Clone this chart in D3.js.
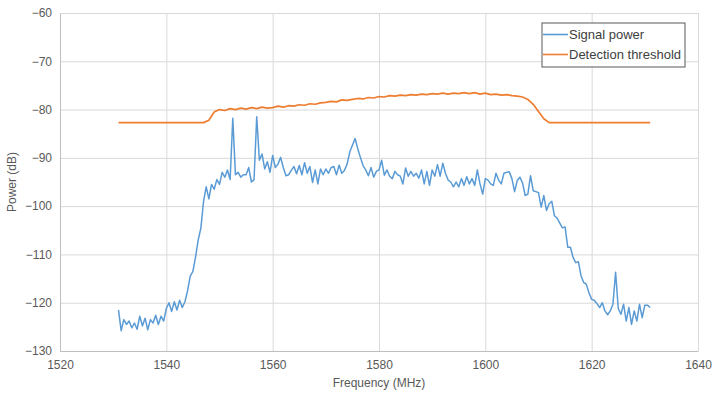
<!DOCTYPE html>
<html>
<head>
<meta charset="utf-8">
<script src="https://cdn.jsdelivr.net/npm/d3@7"></script>
<style>
  body { margin: 0; background: #fff; }
  text { font-family: "Liberation Sans", Arial, sans-serif; }
</style>
</head>
<body>
<div id="chart"></div>
<script>
var svgWidth = 720;
var svgHeight = 396;

var margin = { top: 13, right: 22, bottom: 45, left: 60 };
var width = svgWidth - margin.left - margin.right;
var height = svgHeight - margin.top - margin.bottom;

// signal sampled every 0.5 MHz starting at 1531 MHz
var signalStart = 1531;
var signalStep = 0.5;
var signalPower = [
  -121.5, -125.8, -123.5, -124.5, -123.8, -125.2, -124.2, -125.5, -122.8, -124.8,
  -123.2, -125.6, -123.5, -124.2, -122.6, -124.5, -122.8, -123.8, -121.2, -120.0,
  -121.8, -119.8, -121.5, -119.5, -121.0, -119.8, -117.5, -114.5, -113.5, -110.5,
  -107.0, -104.5, -99.0, -96.0, -98.5, -95.5, -96.5, -94.5, -95.5, -93.0,
  -94.0, -92.5, -94.5, -81.8, -93.5, -93.0, -94.0, -93.5, -93.5, -92.0,
  -95.0, -94.5, -81.5, -90.5, -89.2, -92.3, -90.8, -93.0, -89.5, -92.0,
  -91.3, -89.9, -92.0, -93.7, -93.5, -92.6, -91.8, -93.3, -91.6, -93.5,
  -91.0, -93.2, -91.8, -95.1, -92.5, -95.4, -92.3, -93.5, -92.3, -93.2,
  -92.0, -91.8, -93.5, -91.5, -93.2, -92.6, -91.3, -88.8, -87.4, -86.0,
  -88.1, -89.9, -91.6, -92.5, -93.7, -92.0, -94.0, -92.8, -92.5, -90.5,
  -93.6, -92.5, -93.8, -94.3, -92.8, -93.5, -93.8, -95.4, -92.1, -93.8,
  -92.8, -93.8, -93.2, -94.2, -92.5, -95.4, -92.8, -95.7, -92.5, -93.8,
  -91.4, -93.8, -91.1, -93.2, -94.6, -95.0, -96.0, -95.0, -96.0, -94.3,
  -95.7, -93.9, -95.4, -94.3, -95.7, -92.5, -95.4, -97.5, -94.3, -94.6,
  -95.4, -95.7, -93.2, -94.6, -95.4, -93.2, -93.0, -92.9, -94.3, -97.0,
  -94.7, -94.0, -95.2, -97.8, -97.5, -93.7, -96.8, -97.0, -97.2, -100.2,
  -97.8, -100.9, -99.5, -99.0, -102.0, -102.5, -103.5, -104.5, -104.3, -108.5,
  -108.5, -110.6, -111.7, -111.5, -114.4, -115.8, -116.2, -118.0, -119.3, -119.5,
  -120.2, -121.0, -120.0, -121.7, -122.5, -121.7, -120.3, -113.7, -121.2, -122.4,
  -120.3, -123.8, -121.0, -124.5, -121.7, -123.8, -120.3, -123.1, -120.5, -120.5,
  -121.0
];

// threshold sampled every 1 MHz starting at 1531 MHz
var thresholdStart = 1531;
var thresholdStep = 1;
var detectionThreshold = [
  -82.7, -82.7, -82.7, -82.7, -82.7, -82.7, -82.7, -82.7, -82.7, -82.7,
  -82.7, -82.7, -82.7, -82.7, -82.7, -82.7, -82.7, -82.2, -80.5, -80.0,
  -80.2, -79.8, -80.0, -79.7, -79.9, -79.6, -79.8, -79.5, -79.7, -79.6,
  -79.3, -79.5, -79.2, -79.3, -79.0, -79.1, -78.8, -78.9, -78.6, -78.5,
  -78.3, -78.4, -78.0, -78.1, -77.9, -77.7, -77.8, -77.5, -77.6, -77.3,
  -77.4, -77.1, -77.2, -77.0, -77.1, -76.9, -77.0, -76.8, -76.9, -76.7,
  -76.8, -76.6, -76.8, -76.6, -76.7, -76.5, -76.7, -76.5, -76.8, -76.6,
  -76.9, -76.8, -77.0, -76.9, -77.1, -77.2, -77.4, -77.9, -78.9, -80.4,
  -81.9, -82.7, -82.7, -82.7, -82.7, -82.7, -82.7, -82.7, -82.7, -82.7,
  -82.7, -82.7, -82.7, -82.7, -82.7, -82.7, -82.7, -82.7, -82.7, -82.7,
  -82.7
];

var xTicks = [1520, 1540, 1560, 1580, 1600, 1620, 1640];
var yTicks = [-130, -120, -110, -100, -90, -80, -70, -60];
var seriesNames = ["Signal power", "Detection threshold"];
var seriesColors = ["#5b9bd5", "#ed7d31"];

var svg = d3.select("#chart")
  .append("svg")
  .attr("width", svgWidth)
  .attr("height", svgHeight);

var chartGroup = svg.append("g")
  .attr("transform", `translate(${margin.left}, ${margin.top})`);

var xScale = d3.scaleLinear().domain([1520, 1640]).range([0, width]);
var yScale = d3.scaleLinear().domain([-130, -60]).range([height, 0]);

// gridlines
chartGroup.append("g")
  .call(d3.axisLeft(yScale).tickValues(yTicks).tickSize(-width).tickFormat(""))
  .call(g => g.select(".domain").remove())
  .call(g => g.selectAll("line").attr("stroke", "#d9d9d9"));

chartGroup.append("g")
  .attr("transform", `translate(0, ${height})`)
  .call(d3.axisBottom(xScale).tickValues(xTicks).tickSize(-height).tickFormat(""))
  .call(g => g.select(".domain").remove())
  .call(g => g.selectAll("line").attr("stroke", "#d9d9d9"));

// axes
var yAxis = chartGroup.append("g")
  .call(d3.axisLeft(yScale).tickValues(yTicks).tickSize(0).tickPadding(8).tickFormat(d3.format("d")));
yAxis.select(".domain").attr("stroke", "#bfbfbf");
yAxis.selectAll("text").attr("fill", "#595959").style("font-size", "12px");

var xAxis = chartGroup.append("g")
  .attr("transform", `translate(0, ${height})`)
  .call(d3.axisBottom(xScale).tickValues(xTicks).tickSize(0).tickPadding(9).tickFormat(d3.format("d")));
xAxis.select(".domain").attr("stroke", "#bfbfbf");
xAxis.selectAll("text").attr("fill", "#595959").style("font-size", "12px");

// axis titles
svg.append("text")
  .attr("transform", `translate(16, ${margin.top + height / 2}) rotate(-90)`)
  .attr("text-anchor", "middle")
  .attr("fill", "#595959")
  .style("font-size", "12px")
  .text("Power (dB)");

svg.append("text")
  .attr("x", margin.left + width / 2)
  .attr("y", 387)
  .attr("text-anchor", "middle")
  .attr("fill", "#595959")
  .style("font-size", "12px")
  .text("Frequency (MHz)");

// lines
var line = d3.line()
  .x(d => xScale(d[0]))
  .y(d => yScale(d[1]));

var signalData = signalPower.map((v, i) => [signalStart + i * signalStep, v]);
var thresholdData = detectionThreshold.map((v, i) => [thresholdStart + i * thresholdStep, v]);

chartGroup.append("path")
  .datum(thresholdData)
  .attr("fill", "none")
  .attr("stroke", seriesColors[1])
  .attr("stroke-width", 1.7)
  .attr("stroke-linejoin", "round")
  .attr("d", line);

chartGroup.append("path")
  .datum(signalData)
  .attr("fill", "none")
  .attr("stroke", seriesColors[0])
  .attr("stroke-width", 1.5)
  .attr("stroke-linejoin", "round")
  .attr("d", line);

// legend
var legend = svg.append("g").attr("transform", "translate(542, 23)");
legend.append("rect")
  .attr("width", 143)
  .attr("height", 44)
  .attr("fill", "#fff")
  .attr("stroke", "#595959")
  .attr("stroke-width", 1);

seriesNames.forEach(function(name, i) {
  var y = 11.5 + i * 20;
  legend.append("line")
    .attr("x1", 1).attr("x2", 26)
    .attr("y1", y).attr("y2", y)
    .attr("stroke", seriesColors[i])
    .attr("stroke-width", 1.6);
  legend.append("text")
    .attr("x", 27)
    .attr("y", y + 4.5)
    .attr("fill", "#404040")
    .style("font-size", "13px")
    .text(name);
});
</script>
</body>
</html>
